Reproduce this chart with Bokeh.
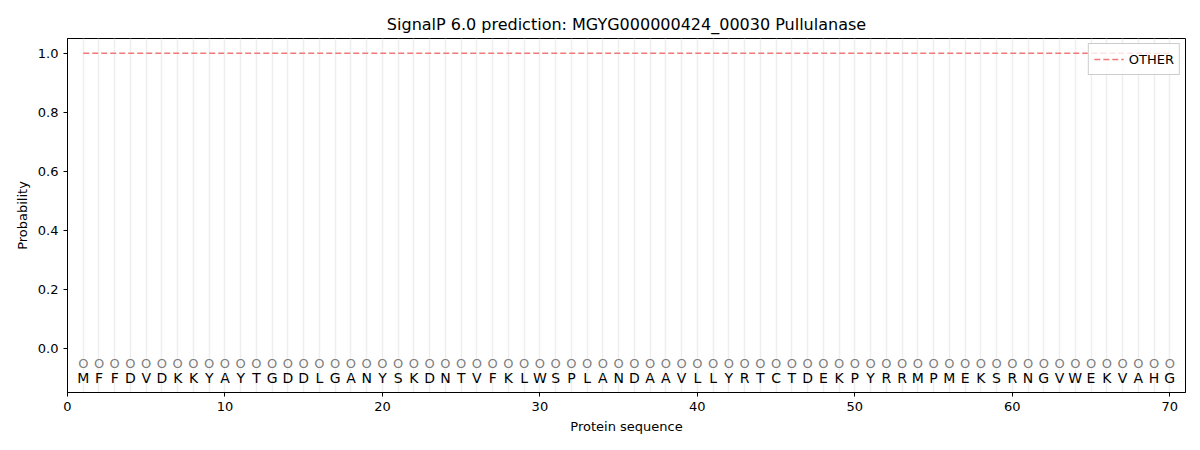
from bokeh.plotting import figure
from bokeh.models import Range1d, FixedTicker, Grid, Legend, LegendItem, CustomJSTickFormatter
from bokeh.core.properties import value
from bokeh.embed import file_html
from bokeh.resources import INLINE

sequence = list("MFFDVDKKYAYTGDDLGANYSKDNTVFKLWSPLANDAAVLLYRTCTDEKPYRRMPMEKSRNGVWEKVAHG")
positions = list(range(1, len(sequence) + 1))
other_prob = [1.0] * len(sequence)
labels = ["O"] * len(sequence)
label_y = [-0.05] * len(sequence)
aa_y = [-0.1] * len(sequence)

FONT = "DejaVu Sans"

p = figure(width=1192, height=442, output_backend="svg", toolbar_location=None,
           x_range=Range1d(0, 71), y_range=Range1d(-0.15, 1.05),
           min_border_left=67, min_border_right=7, min_border_top=38, min_border_bottom=50)

p.title.text = "SignalP 6.0 prediction: MGYG000000424_00030 Pullulanase"
p.title.align = "center"
p.title.text_font = FONT
p.title.text_font_size = "16px"
p.title.text_font_style = "normal"
p.title.text_color = "black"

p.xgrid.visible = False
p.ygrid.visible = False
p.add_layout(Grid(dimension=0, ticker=FixedTicker(ticks=positions),
                  grid_line_color="#eeeeee", grid_line_width=1.5))

p.xaxis.ticker = FixedTicker(ticks=[0, 10, 20, 30, 40, 50, 60, 70])
p.yaxis.ticker = FixedTicker(ticks=[0.0, 0.2, 0.4, 0.6, 0.8, 1.0])
p.yaxis.formatter = CustomJSTickFormatter(code="return tick.toFixed(1);")
p.xaxis.axis_label = "Protein sequence"
p.yaxis.axis_label = "Probability"
for ax in (p.xaxis[0], p.yaxis[0]):
    ax.axis_label_text_font = FONT
    ax.axis_label_text_font_size = "13px"
    ax.axis_label_text_font_style = "normal"
    ax.axis_label_text_color = "black"
    ax.major_label_text_font = FONT
    ax.major_label_text_font_size = "13px"
    ax.major_label_text_color = "black"
    ax.minor_tick_line_color = None
    ax.major_tick_in = 0
    ax.major_tick_out = 4
    ax.major_tick_line_color = "black"
    ax.axis_line_color = "black"
p.outline_line_color = "black"

line = p.line(positions, other_prob, line_color="#f07878", line_width=1.5, line_dash="6 3")

p.text(positions, label_y, text=labels, text_font=value(FONT), text_font_size="13px",
       text_color="#808080", text_align="center", text_baseline="middle")
p.text(positions, aa_y, text=sequence, text_font=value(FONT), text_font_size="14px",
       text_color="black", text_align="center", text_baseline="middle")

legend = Legend(items=[LegendItem(label="OTHER", renderers=[line])], location="top_right",
                label_text_font=FONT, label_text_font_size="13px", label_text_color="black",
                border_line_color="#cccccc", border_line_alpha=1.0,
                background_fill_alpha=0.8, glyph_width=30, padding=5, spacing=2, margin=5)
p.add_layout(legend)

open("out.html", "w").write(file_html(p, INLINE))
